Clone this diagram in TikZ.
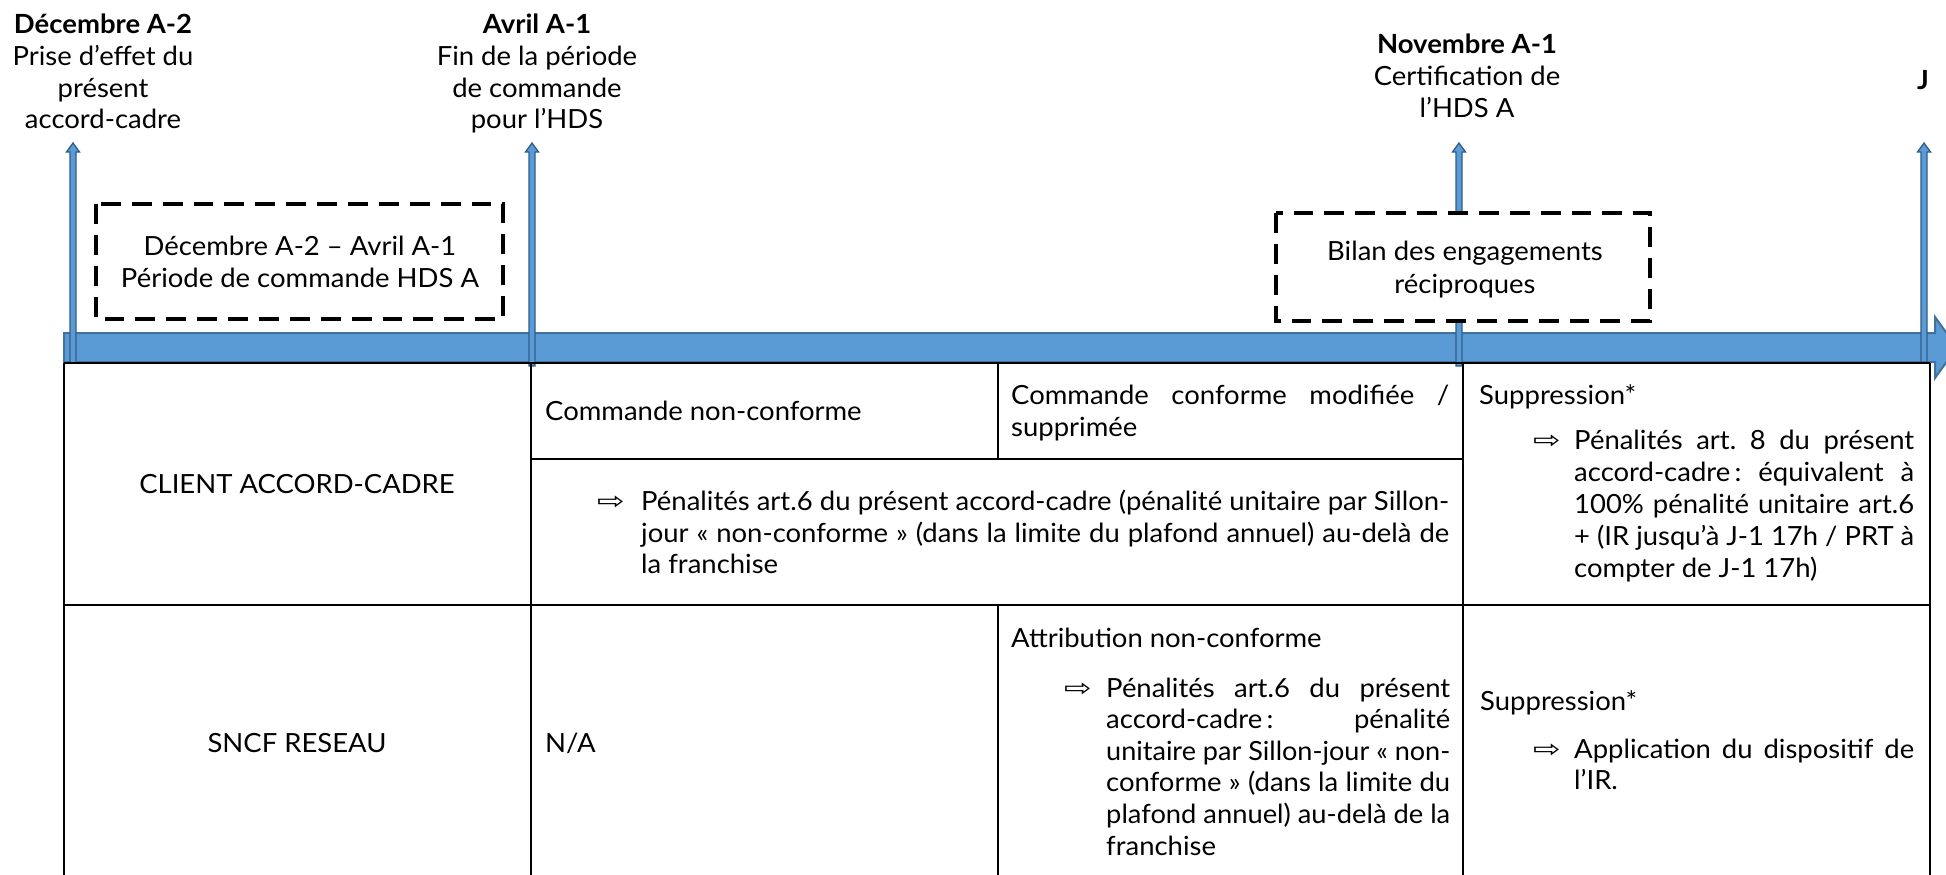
\documentclass[tikz,border=0pt]{standalone}
\usepackage{graphicx}
\usepackage{fontspec}
\setmainfont{Lato}[FakeStretch=1.04]
\newfontfamily\symfont{DejaVu Sans}
\definecolor{barblue}{HTML}{5B9BD5}
\definecolor{bardark}{HTML}{41719C}
\definecolor{arrdark}{HTML}{2F5D8A}
\frenchspacing
\newcommand\vArrow[3]{\draw[varr] (#1-3,#3) -- (#1-3,#2+9) -- (#1-6.5,#2+9) -- (#1,#2) -- (#1+6.5,#2+9) -- (#1+3,#2+9) -- (#1+3,#3) -- cycle;}
\newcommand\jl[2]{\sbox0{#2}\ifdim\wd0>#1bp\relax\resizebox{#1bp}{\height}{#2}\else\makebox[#1bp][s]{#2}\fi}
\newcommand\bul{\scalebox{1.5}[1.1]{⇨}}
\begin{document}
\begin{tikzpicture}[x=1bp,y=-1bp,
  txt/.style={font=\fontsize{26.5}{32}\selectfont\frenchspacing, inner sep=0pt, text=black},
  hd/.style={txt, anchor=base},
  hdb/.style={txt, anchor=base, font=\fontsize{26.5}{32}\selectfont\bfseries},
  lw/.style={txt, anchor=base west},
  sym/.style={inner sep=0pt, anchor=base west, font=\symfont\fontsize{22}{24}\selectfont, yshift=1bp},
  varr/.style={fill=barblue, draw=arrdark, line width=1.3pt},
  dbox/.style={draw=black, fill=white, line width=4pt, dash pattern=on 20pt off 11pt},
  tline/.style={draw=black, line width=2pt}
]
\useasboundingbox (0,0) rectangle (1946,875);
\clip (0,0) rectangle (1946,875);
\fill[white] (0,0) rectangle (1946,875);

% timeline bar
\draw[fill=barblue, draw=bardark, line width=2pt] (64,333) -- (1935,333) -- (1935,317) -- (1957,347.5) -- (1935,378) -- (1935,362) -- (64,362) -- cycle;

% vertical arrows
\vArrow{73}{143}{363}
\vArrow{532}{143}{366}
\vArrow{1459}{143}{366}
\vArrow{1924}{143}{362}

% table
\draw[tline] (64,363) -- (1930,363);
\draw[tline] (64,363) -- (64,880);
\draw[tline] (531,363) -- (531,880);
\draw[tline] (998,363) -- (998,459);
\draw[tline] (998,605) -- (998,880);
\draw[tline] (1463,363) -- (1463,880);
\draw[tline] (1930,363) -- (1930,880);
\draw[tline] (531,459) -- (1463,459);
\draw[tline] (64,605) -- (1930,605);

% dashed boxes
\draw[dbox] (96,204) rectangle (503,319);
\draw[dbox] (1276,213) rectangle (1650,321);

% header texts
\node[hdb] (d1) at (103,33) {Décembre A-2};
\node[hd] (d2) at (103,65) {Prise d’effet du};
\node[hd] (d3) at (103,97) {présent};
\node[hd] (d4) at (103,128) {accord-cadre};
\node[hdb] (a1) at (537,33) {Avril A-1};
\node[hd] (a2) at (537,65) {Fin de la période};
\node[hd] (a3) at (537,97) {de commande};
\node[hd] (a4) at (537,128) {pour l’HDS};
\node[hdb] (n1) at (1467,53) {Novembre A-1};
\node[hd] (n2) at (1467,85) {Certification de};
\node[hd] (n3) at (1467,117) {l’HDS A};
\node[hdb] (j1) at (1923,89) {J};

% box texts
\node[hd] (b1a) at (300,255) {Décembre A-2 – Avril A-1};
\node[hd] (b1b) at (300,287) {Période de commande HDS A};
\node[hd] (b2a) at (1465,260) {Bilan des engagements};
\node[hd] (b2b) at (1465,293) {réciproques};

% table texts
\node[hd] (r1) at (297,493) {CLIENT ACCORD-CADRE};
\node[hd] (r2) at (297,752) {SNCF RESEAU};
\node[lw] (c11) at (545,420) {Commande non-conforme};
\node[lw] (c12a) at (1011,404) {\jl{438}{Commande conforme modifiée /}};
\node[lw] (c12b) at (1011,436) {supprimée};
\node[sym] (p1s) at (597,510) {\bul};
\node[lw] (p1a) at (641,510) {\jl{808}{Pénalités art.6 du présent accord-cadre (pénalité unitaire par Sillon-}};
\node[lw] (p1b) at (641,542) {\jl{808}{jour « non-conforme » (dans la limite du plafond annuel) au-delà de}};
\node[lw] (p1c) at (641,573) {la franchise};
\node[lw] (s1) at (1479,404) {Suppression*};
\node[sym] (s1s) at (1533,449) {\bul};
\node[lw] (s1a) at (1574,449) {\jl{340}{Pénalités art. 8 du présent}};
\node[lw] (s1b) at (1574,481) {\jl{340}{\mbox{accord-cadre\,:} équivalent à}};
\node[lw] (s1c) at (1574,513) {\jl{340}{100\% pénalité unitaire art.6}};
\node[lw] (s1d) at (1574,545) {\jl{340}{+ (IR jusqu’à J-1 17h / PRT à}};
\node[lw] (s1e) at (1574,577) {compter de J-1 17h)};
\node[lw] (na) at (545,752) {N/A};
\node[lw] (at) at (1011,647) {Attribution non-conforme};
\node[sym] (ats) at (1064,697) {\bul};
\node[lw] (at1) at (1106,697) {\jl{344}{Pénalités art.6 du présent}};
\node[lw] (at2) at (1106,728) {\jl{344}{\mbox{accord-cadre\,:} pénalité}};
\node[lw] (at3) at (1106,760) {\jl{344}{unitaire par Sillon-jour « non-}};
\node[lw] (at4) at (1106,791) {\jl{344}{conforme » (dans la limite du}};
\node[lw] (at5) at (1106,823) {\jl{344}{plafond annuel) au-delà de la}};
\node[lw] (at6) at (1106,855) {franchise};
\node[lw] (s2) at (1480,710) {Suppression*};
\node[sym] (s2s) at (1533,758) {\bul};
\node[lw] (s2a) at (1574,758) {\jl{340}{Application du dispositif de}};
\node[lw] (s2b) at (1574,789) {l’IR.};
\end{tikzpicture}
\end{document}
